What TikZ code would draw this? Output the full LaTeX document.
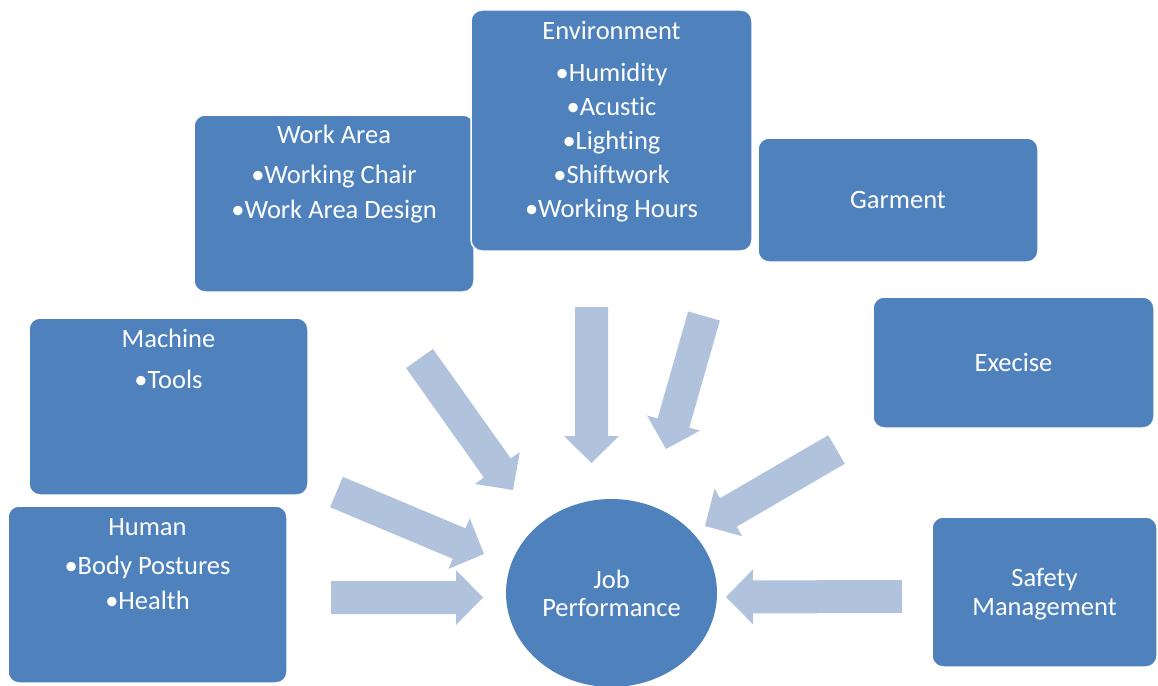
\documentclass[tikz,border=0pt]{standalone}
\usepackage{fontspec}
\setmainfont{Carlito}[Ligatures={NoCommon}]
\usetikzlibrary{calc,shapes.geometric}
\definecolor{boxblue}{HTML}{4F81BD}
\definecolor{arrowblue}{HTML}{B1C2DD}
\newcommand{\txtlines}[1]{\begin{tabular}[t]{@{}c@{}}#1\end{tabular}}
\newcommand{\blockarrow}[2]{%
  \fill[arrowblue] ($(#1)!16.5pt!90:(#2)$)
    -- ($($(#2)!27pt!(#1)$)!16.5pt!90:(#2)$)
    -- ($($(#2)!27pt!(#1)$)!27.5pt!90:(#2)$)
    -- (#2)
    -- ($($(#2)!27pt!(#1)$)!27.5pt!-90:(#2)$)
    -- ($($(#2)!27pt!(#1)$)!16.5pt!-90:(#2)$)
    -- ($(#1)!16.5pt!-90:(#2)$) -- cycle;}
\begin{document}
\begin{tikzpicture}[x=1pt,y=-1pt,
  box/.style={rectangle, rounded corners=11pt, fill=boxblue, draw=white, line width=1.5pt,
    text=white, font=\fontsize{26.5}{29}\selectfont, align=center, inner sep=0pt},
  lbl/.style={text=white, font=\fontsize{26.5}{29}\selectfont, anchor=base, inner sep=0pt}]
\useasboundingbox (0,0) rectangle (1158,685);

% boxes
\node[box, minimum width=280pt, minimum height=177pt] (work) at (334,203.5) {};
\node[box, minimum width=281pt, minimum height=241pt] (env) at (611.5,130.5) {};
\node[box, minimum width=280pt, minimum height=124pt] (garment) at (898,200) {Garment};
\node[box, minimum width=281pt, minimum height=131pt] (exer) at (1013.5,362.5) {Execise};
\node[box, minimum width=225pt, minimum height=150pt] (safety) at (1044.5,592) {};
\node[box, minimum width=279pt, minimum height=177pt] (machine) at (168.5,406.5) {};
\node[box, minimum width=279pt, minimum height=177pt] (human) at (147.5,594.5) {};
\node[ellipse, fill=boxblue, inner sep=0pt, minimum width=211pt, minimum height=188pt] (job) at (611.5,593) {};

% texts
\node[lbl] (worktxt) at (334,143) {\txtlines{Work Area\\[11pt]•Working Chair\\[6pt]•Work Area Design}};
\node[lbl] (envtxt) at (611.5,40) {\txtlines{Environment\\[12.5pt]•Humidity\\[5pt]•Acustic\\[5pt]•Lighting\\[5pt]•Shiftwork\\[5pt]•Working Hours}};
\node[lbl] (machtxt) at (168.5,347) {\txtlines{Machine\\[12pt]•Tools}};
\node[lbl] (humtxt) at (147.5,535) {\txtlines{Human\\[10pt]•Body Postures\\[6pt]•Health}};
\node[lbl] (safetxt) at (1044.5,586) {\txtlines{Safety\\Management}};
\node[lbl] (jobtxt) at (611.5,588) {\txtlines{Job\\[-0.5pt]Performance}};

% arrow end points
\coordinate (a1s) at (591.5,307);   \coordinate (a1t) at (591.5,463);
\coordinate (a2s) at (419.5,358.5); \coordinate (a2t) at (513,490);
\coordinate (a3s) at (336.5,492);   \coordinate (a3t) at (484,554);
\coordinate (a4s) at (331,597.5);   \coordinate (a4t) at (483,597.5);
\coordinate (a5s) at (704,316);     \coordinate (a5t) at (666,449);
\coordinate (a6s) at (836.5,449.5); \coordinate (a6t) at (705,526);
\coordinate (a7s) at (902,596.5);   \coordinate (a7t) at (726,597);

\blockarrow{a1s}{a1t}
\blockarrow{a2s}{a2t}
\blockarrow{a3s}{a3t}
\blockarrow{a4s}{a4t}
\blockarrow{a5s}{a5t}
\blockarrow{a6s}{a6t}
\blockarrow{a7s}{a7t}
\end{tikzpicture}
\end{document}
